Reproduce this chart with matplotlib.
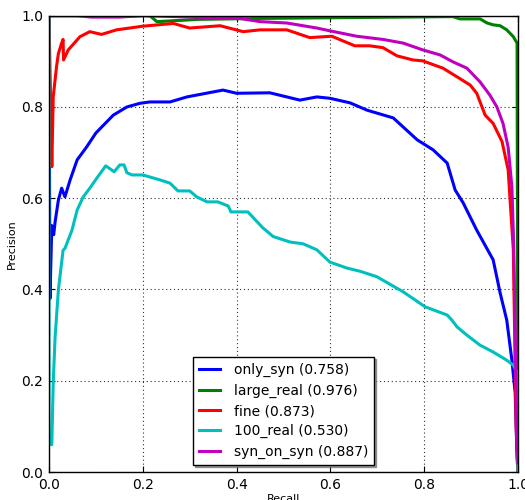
import matplotlib
matplotlib.use("Agg")
import matplotlib.pyplot as plt

# ---- data ----
only_syn_r = [0.0, 0.002, 0.006, 0.008, 0.01, 0.013, 0.02, 0.027, 0.034, 0.045, 0.06, 0.08, 0.10,
              0.137, 0.166, 0.194, 0.215, 0.258, 0.294, 0.371, 0.40, 0.471, 0.535, 0.571, 0.599,
              0.642, 0.678, 0.734, 0.785, 0.819, 0.849, 0.866, 0.883, 0.912, 0.947, 0.962, 0.976,
              0.987, 0.994, 0.998, 1.0]
only_syn_p = [1.0, 0.38, 0.54, 0.53, 0.52, 0.548, 0.596, 0.622, 0.603, 0.64, 0.684, 0.712, 0.743,
              0.782, 0.80, 0.808, 0.811, 0.811, 0.822, 0.837, 0.830, 0.831, 0.815, 0.822, 0.819,
              0.809, 0.793, 0.776, 0.728, 0.706, 0.677, 0.618, 0.59, 0.53, 0.465, 0.392, 0.333,
              0.245, 0.173, 0.03, 0.0]

large_real_r = [0.0, 0.215, 0.23, 0.32, 0.45, 0.861, 0.876, 0.919, 0.934, 0.947, 0.962, 0.976,
                0.99, 0.998, 1.0]
large_real_p = [1.0, 1.0, 0.987, 0.992, 0.994, 0.998, 0.993, 0.993, 0.984, 0.98, 0.978, 0.969,
                0.954, 0.94, 0.0]

fine_r = [0.0, 0.006, 0.009, 0.016, 0.02, 0.027, 0.03, 0.031, 0.041, 0.066, 0.087, 0.112, 0.144,
          0.2, 0.265, 0.30, 0.365, 0.414, 0.45, 0.507, 0.556, 0.603, 0.652, 0.684, 0.712, 0.742,
          0.776, 0.797, 0.84, 0.87, 0.898, 0.912, 0.93, 0.947, 0.966, 0.979, 0.99, 0.996, 1.0]
fine_p = [1.0, 0.669, 0.822, 0.888, 0.917, 0.94, 0.948, 0.903, 0.925, 0.954, 0.965, 0.959, 0.969,
          0.977, 0.983, 0.973, 0.978, 0.965, 0.969, 0.969, 0.952, 0.955, 0.934, 0.934, 0.93, 0.912,
          0.903, 0.901, 0.885, 0.866, 0.848, 0.83, 0.782, 0.764, 0.724, 0.662, 0.487, 0.1, 0.0]

real100_r = [0.0, 0.0, 0.006, 0.009, 0.013, 0.02, 0.03, 0.034, 0.049, 0.06, 0.073, 0.087, 0.104,
             0.121, 0.139, 0.151, 0.16, 0.166, 0.177, 0.2, 0.237, 0.258, 0.275, 0.30, 0.315,
             0.337, 0.36, 0.382, 0.388, 0.424, 0.456, 0.478, 0.514, 0.542, 0.571, 0.599, 0.635,
             0.663, 0.699, 0.755, 0.802, 0.849, 0.859, 0.87, 0.891, 0.919, 0.947, 0.976, 0.99,
             0.998, 1.0]
real100_p = [1.0, 0.06, 0.06, 0.195, 0.296, 0.399, 0.486, 0.49, 0.53, 0.574, 0.603, 0.622, 0.647,
             0.671, 0.658, 0.673, 0.673, 0.656, 0.651, 0.651, 0.64, 0.633, 0.616, 0.616, 0.603,
             0.592, 0.592, 0.583, 0.57, 0.57, 0.535, 0.516, 0.504, 0.50, 0.487, 0.46, 0.447,
             0.44, 0.428, 0.395, 0.362, 0.344, 0.333, 0.318, 0.30, 0.278, 0.263, 0.245, 0.234,
             0.219, 0.0]

syn_r = [0.0, 0.06, 0.09, 0.15, 0.2, 0.407, 0.45, 0.507, 0.571, 0.603, 0.656, 0.712, 0.755,
         0.797, 0.834, 0.861, 0.891, 0.919, 0.94, 0.955, 0.968, 0.979, 0.987, 0.991, 0.994,
         0.997, 1.0]
syn_p = [1.0, 1.0, 0.997, 0.997, 1.0, 0.994, 0.987, 0.984, 0.973, 0.966, 0.955, 0.948, 0.94,
         0.925, 0.914, 0.899, 0.885, 0.855, 0.826, 0.80, 0.764, 0.712, 0.625, 0.493, 0.3,
         0.1, 0.02]

labels = ["only_syn (0.758)", "large_real (0.976)", "fine (0.873)", "100_real (0.530)",
          "syn_on_syn (0.887)"]
colors = ["b", "g", "r", "c", "m"]
ticks = [0.0, 0.2, 0.4, 0.6, 0.8, 1.0]

series = [(only_syn_r, only_syn_p), (large_real_r, large_real_p), (fine_r, fine_p),
          (real100_r, real100_p), (syn_r, syn_p)]

fig = plt.figure(figsize=(5.25, 5.0), dpi=100)
ax = fig.add_axes([49 / 525, 28 / 500, 469 / 525, 456.3 / 500])

cmap = {"b": (0, 0, 1), "g": (0, 0.5, 0), "r": (1, 0, 0), "c": (0, 0.75, 0.75), "m": (0.75, 0, 0.75)}
for (r, p), lab, c in zip(series, labels, colors):
    ax.plot(r, p, color=cmap[c], lw=2.2, label=lab, solid_joinstyle="round")

ax.set_xlim(0, 1)
ax.set_ylim(0, 1)
ax.set_xticks(ticks)
ax.set_yticks(ticks)
ax.tick_params(direction="in", top=True, right=True, labelsize=10, length=4, pad=4)
ax.grid(True, linestyle=(0, (1, 2.5)), color="0.2", linewidth=0.8)
ax.set_axisbelow(True)
for s in ax.spines.values():
    s.set_linewidth(1.0)
ax.set_xlabel("Recall", fontsize=8, labelpad=2)
ax.set_ylabel("Precision", fontsize=8, labelpad=3)

leg = ax.legend(loc="lower center", fontsize=10, fancybox=False,
                shadow={"ox": 1.5, "oy": -1.5, "color": "0.45", "alpha": 0.7},
                handlelength=1.5, handletextpad=1.0, labelspacing=0.45, borderpad=0.45,
                framealpha=1.0, edgecolor="k")
leg.get_frame().set_linewidth(1.0)

fig.savefig("out.png", dpi=100)
